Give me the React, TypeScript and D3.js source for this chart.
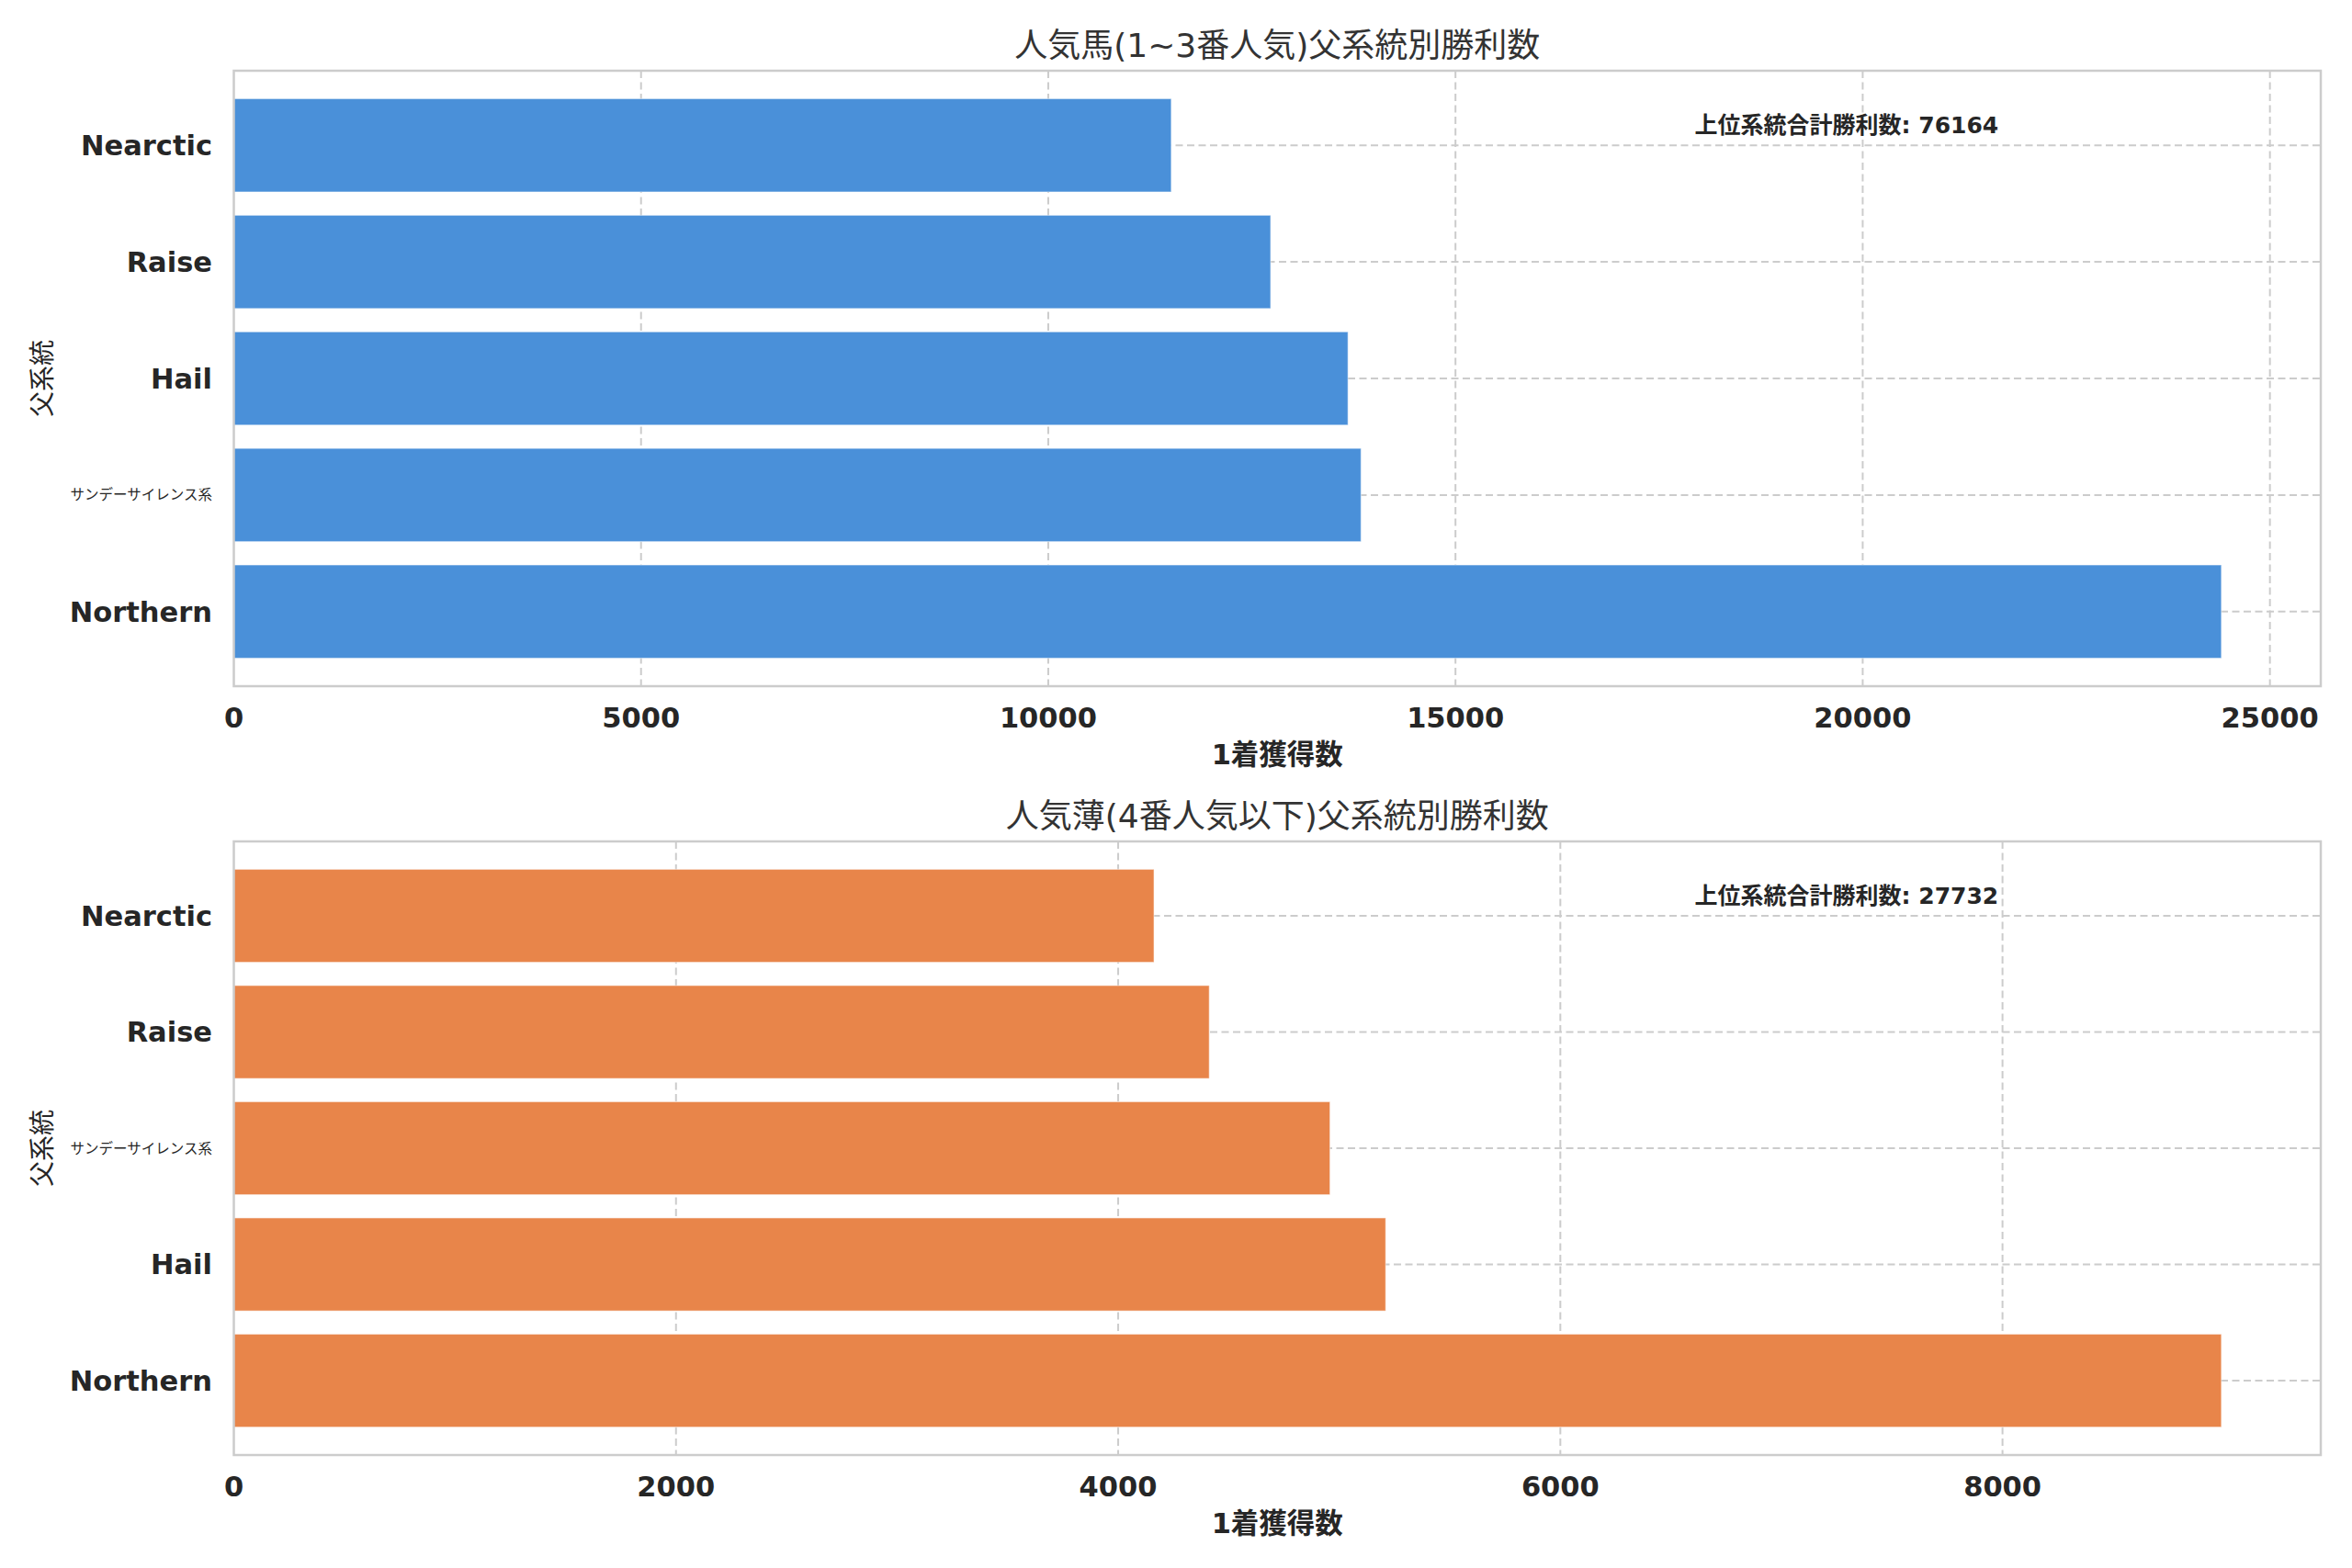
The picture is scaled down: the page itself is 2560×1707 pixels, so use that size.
import React, { useEffect, useRef } from "react";
import * as d3 from "d3";

// 上段: 人気馬 (1~3番人気)
const topCategories = ["Nearctic", "Raise", "Hail", "サンデーサイレンス系", "Northern"];
const topValues = [11510, 12730, 13680, 13840, 24404];
const topTitle = "人気馬(1~3番人気)父系統別勝利数";
const topTotal = 76164;

// 下段: 人気薄 (4番人気以下)
const bottomCategories = ["Nearctic", "Raise", "サンデーサイレンス系", "Hail", "Northern"];
const bottomValues = [4162, 4412, 4958, 5210, 8990];
const bottomTitle = "人気薄(4番人気以下)父系統別勝利数";
const bottomTotal = 27732;

const xLabel = "1着獲得数";
const yLabel = "父系統";
const totalLabel = "上位系統合計勝利数";

const FONT = "'DejaVu Sans', 'Noto Sans CJK JP', sans-serif";
const TEXT = "#262626";
const GRID = "#cccccc";

const isLatin = (s: string) => /^[A-Za-z]/.test(s);

function drawPanel(svg, cats: string[], vals: number[], title: string, total: number, color: string, top: number, bottom: number) {
    const left = 254.5, right = 2526;

    const x = d3.scaleLinear()
        .domain([0, d3.max(vals) * 1.05])
        .range([left, right]);

    const y = d3.scaleBand()
        .domain(cats)
        .range([top, bottom])
        .paddingInner(0.2)
        .paddingOuter(0.24);

    const g = svg.append("g");

    // grid
    g.selectAll("vgrid")
        .data(x.ticks(5).filter(t => t > 0))
        .enter()
        .append("line")
        .attr("x1", d => x(d)).attr("x2", d => x(d))
        .attr("y1", top).attr("y2", bottom)
        .attr("stroke", GRID).attr("stroke-width", 2)
        .attr("stroke-dasharray", "8,4.5");

    g.selectAll("hgrid")
        .data(cats)
        .enter()
        .append("line")
        .attr("x1", left).attr("x2", right)
        .attr("y1", d => y(d) + y.bandwidth() / 2)
        .attr("y2", d => y(d) + y.bandwidth() / 2)
        .attr("stroke", GRID).attr("stroke-width", 2)
        .attr("stroke-dasharray", "8,4.5");

    // bars
    g.selectAll("bar")
        .data(cats)
        .enter()
        .append("rect")
        .attr("x", x(0))
        .attr("y", d => y(d))
        .attr("width", (d, i) => x(vals[i]) - x(0))
        .attr("height", y.bandwidth())
        .attr("fill", color)
        .attr("stroke", "rgba(255,255,255,0.45)")
        .attr("stroke-width", 1.2);

    // frame
    g.append("rect")
        .attr("x", left).attr("y", top)
        .attr("width", right - left).attr("height", bottom - top)
        .attr("fill", "none")
        .attr("stroke", GRID).attr("stroke-width", 2.5);

    // x tick labels
    g.selectAll("xtick")
        .data(x.ticks(5))
        .enter()
        .append("text")
        .attr("x", d => x(d))
        .attr("y", bottom + 45)
        .attr("text-anchor", "middle")
        .attr("font-weight", "bold")
        .attr("font-size", 30.5)
        .attr("fill", TEXT)
        .text(d => String(d));

    // y tick labels (the long katakana name is set smaller so it fits beside the axis title)
    g.selectAll("ytick")
        .data(cats)
        .enter()
        .append("text")
        .attr("x", 231)
        .attr("y", d => y(d) + y.bandwidth() / 2)
        .attr("dy", "0.36em")
        .attr("text-anchor", "end")
        .attr("font-weight", d => isLatin(d) ? "bold" : "normal")
        .attr("font-size", d => isLatin(d) ? 30.5 : 15.5)
        .attr("fill", TEXT)
        .text(d => d);

    // x label
    g.append("text")
        .attr("x", (left + right) / 2)
        .attr("y", bottom + 85)
        .attr("text-anchor", "middle")
        .attr("font-weight", "bold")
        .attr("font-size", 30.5)
        .attr("fill", TEXT)
        .text(xLabel);

    // y label
    g.append("text")
        .attr("transform", "translate(56," + (top + bottom) / 2 + ") rotate(-90)")
        .attr("text-anchor", "middle")
        .attr("font-size", 28)
        .attr("fill", TEXT)
        .text(yLabel);

    // title
    g.append("text")
        .attr("x", (left + right) / 2)
        .attr("y", top - 15)
        .attr("text-anchor", "middle")
        .attr("font-size", 36)
        .attr("fill", "#333333")
        .text(title);

    // total annotation
    g.append("text")
        .attr("x", left + 0.7 * (right - left))
        .attr("y", top + 68)
        .attr("font-weight", "bold")
        .attr("font-size", 25)
        .attr("fill", TEXT)
        .text(totalLabel + ": " + total);
}

export default function App() {
    const ref = useRef<SVGSVGElement>(null);

    useEffect(() => {
        const svg = d3.select(ref.current);
        svg.selectAll("*").remove();
        svg.append("rect").attr("width", 2560).attr("height", 1707).attr("fill", "#ffffff");
        drawPanel(svg, topCategories, topValues, topTitle, topTotal, "#4a90d9", 77, 747);
        drawPanel(svg, bottomCategories, bottomValues, bottomTitle, bottomTotal, "#e8854a", 916, 1584);
    }, []);

    return (
        <svg
            ref={ref}
            width={2560}
            height={1707}
            style={{ position: "absolute", left: 0, top: 0, fontFamily: FONT }}
        />
    );
}
